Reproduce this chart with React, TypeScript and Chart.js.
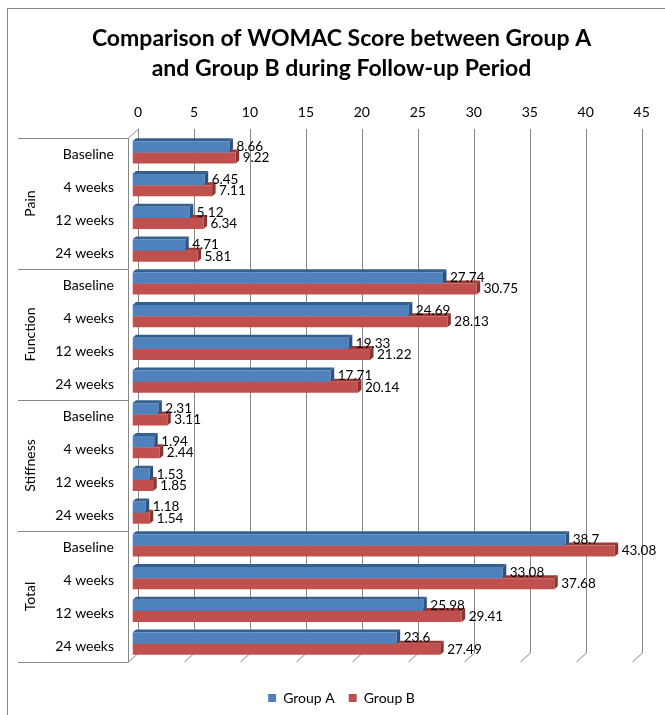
import React, { useEffect, useRef } from "react";
import { Chart, registerables } from "chart.js";

Chart.register(...registerables);

// ---------- data ----------
const TITLE_LINES = ["Comparison of WOMAC Score between Group A", "and Group B during Follow-up Period"];
const GROUPS = ["Pain", "Function", "Stiffness", "Total"];
const TIMEPOINTS = ["Baseline", "4 weeks", "12 weeks", "24 weeks"];
const SERIES_NAMES = ["Group A", "Group B"];
const GROUP_A = [8.66, 6.45, 5.12, 4.71, 27.74, 24.69, 19.33, 17.71, 2.31, 1.94, 1.53, 1.18, 38.7, 33.08, 25.98, 23.6];
const GROUP_B = [9.22, 7.11, 6.34, 5.81, 30.75, 28.13, 21.22, 20.14, 3.11, 2.44, 1.85, 1.54, 43.08, 37.68, 29.41, 27.49];
const X_MIN = 0;
const X_MAX = 45;
const X_STEP = 5;

// ---------- styles ----------
const W = 667;
const H = 715;
const FONT = "Lato, 'Open Sans', sans-serif";
const AXIS_COLOR = "#868686";
const COLORS = ["#4F81BD", "#C0504D"];
const TOP_FACE = ["#34608F", "#9A3B39"];
const SIDE_FACE = ["#2C5280", "#8A3331"];
const FRONT = { dx: -4.5, dy: 2 };
const BACK = { dx: 5.5, dy: -7 };
const BAR_DEPTH = { dx: 3.5, dy: 3 };

const categoryLabels = GROUPS.flatMap(() => TIMEPOINTS);

const wallsPlugin = {
  id: "walls3d",
  beforeDatasetsDraw(chart: any) {
    const { ctx, chartArea: a, scales } = chart;
    const xs = scales.x;
    const ys = scales.y;
    ctx.save();
    ctx.strokeStyle = AXIS_COLOR;
    ctx.lineWidth = 1;
    // back wall gridlines and floor diagonals
    for (let v = X_MIN; v <= X_MAX; v += X_STEP) {
      const px = Math.round(xs.getPixelForValue(v) + BACK.dx) + 0.5;
      ctx.beginPath();
      ctx.moveTo(px, a.top + BACK.dy);
      ctx.lineTo(px, a.bottom + BACK.dy);
      ctx.lineTo(px - (BACK.dx - FRONT.dx), a.bottom + FRONT.dy);
      ctx.stroke();
    }
    // front category axis line with top diagonal
    const fx = Math.round(a.left + FRONT.dx) + 0.5;
    ctx.beginPath();
    ctx.moveTo(Math.round(a.left + BACK.dx) + 0.5, a.top + BACK.dy);
    ctx.lineTo(fx, a.top + FRONT.dy);
    ctx.lineTo(fx, a.bottom + FRONT.dy);
    ctx.stroke();
    // group separators
    const n = TIMEPOINTS.length;
    const half = (ys.getPixelForValue(1) - ys.getPixelForValue(0)) / 2;
    for (let g = 0; g <= GROUPS.length; g++) {
      const py = Math.round(ys.getPixelForValue(g * n) - half + FRONT.dy) + 0.5;
      ctx.beginPath();
      ctx.moveTo(10, py);
      ctx.lineTo(fx, py);
      ctx.stroke();
    }
    // group labels (rotated)
    ctx.fillStyle = "#000";
    ctx.font = `14px ${FONT}`;
    ctx.textAlign = "center";
    ctx.textBaseline = "middle";
    GROUPS.forEach((name, g) => {
      const y0 = ys.getPixelForValue(g * n) - half;
      const y1 = ys.getPixelForValue(g * n + n - 1) + half;
      ctx.save();
      ctx.translate(22, (y0 + y1) / 2 + FRONT.dy);
      ctx.rotate(-Math.PI / 2);
      ctx.fillText(name, 0, 0);
      ctx.restore();
    });
    // 3D faces of bars (red first, blue after)
    for (let d = chart.data.datasets.length - 1; d >= 0; d--) {
      const meta = chart.getDatasetMeta(d);
      meta.data.forEach((el: any) => {
        const { x, y, base, height } = el.getProps(["x", "y", "base", "height"], true);
        const top = y - height / 2;
        const bottom = y + height / 2;
        ctx.fillStyle = TOP_FACE[d];
        ctx.beginPath();
        ctx.moveTo(base, top);
        ctx.lineTo(base + BAR_DEPTH.dx, top - BAR_DEPTH.dy);
        ctx.lineTo(x + BAR_DEPTH.dx, top - BAR_DEPTH.dy);
        ctx.lineTo(x, top);
        ctx.closePath();
        ctx.fill();
        ctx.fillStyle = SIDE_FACE[d];
        ctx.beginPath();
        ctx.moveTo(x, top);
        ctx.lineTo(x + BAR_DEPTH.dx, top - BAR_DEPTH.dy);
        ctx.lineTo(x + BAR_DEPTH.dx, bottom - BAR_DEPTH.dy);
        ctx.lineTo(x, bottom);
        ctx.closePath();
        ctx.fill();
      });
    }
    ctx.restore();
  },
  afterDatasetsDraw(chart: any) {
    const { ctx } = chart;
    ctx.save();
    ctx.fillStyle = "#000";
    ctx.font = `13.5px ${FONT}`;
    ctx.textAlign = "left";
    ctx.textBaseline = "middle";
    chart.data.datasets.forEach((ds: any, d: number) => {
      const meta = chart.getDatasetMeta(d);
      meta.data.forEach((el: any, i: number) => {
        const { x, y } = el.getProps(["x", "y"], true);
        ctx.fillText(String(ds.data[i]), x + 7, y);
      });
    });
    ctx.restore();
  },
};

export default function App() {
  const ref = useRef<HTMLCanvasElement>(null);
  useEffect(() => {
    const chart = new Chart(ref.current as HTMLCanvasElement, {
      type: "bar",
      data: {
        labels: categoryLabels,
        datasets: [
          {
            label: SERIES_NAMES[0],
            data: GROUP_A,
            backgroundColor: COLORS[0],
            borderWidth: 0,
            categoryPercentage: 0.68,
            barPercentage: 1.0,
          },
          {
            label: SERIES_NAMES[1],
            data: GROUP_B,
            backgroundColor: COLORS[1],
            borderWidth: 0,
            categoryPercentage: 0.68,
            barPercentage: 1.0,
          },
        ],
      },
      options: {
        indexAxis: "y",
        responsive: false,
        animation: false,
        events: [],
        layout: { padding: { left: 0, right: 0, top: 0, bottom: 9 } },
        scales: {
          x: {
            type: "linear",
            position: "top",
            min: X_MIN,
            max: X_MAX,
            grid: { display: false, drawTicks: false },
            border: { display: false },
            ticks: {
              stepSize: X_STEP,
              labelOffset: 5.5,
              padding: 15,
              color: "#000",
              font: { family: FONT, size: 14 },
            },
            afterFit(s: any) {
              s.height = 42;
              s.paddingRight = W - 628.2;
            },
          },
          spacer: {
            type: "linear",
            axis: "x",
            position: "bottom",
            display: true,
            grid: { display: false, drawTicks: false },
            border: { display: false },
            ticks: { display: false },
            afterFit(s: any) {
              s.height = 17;
            },
          },
          y: {
            type: "category",
            position: "left",
            grid: { display: false, drawTicks: false },
            border: { display: false },
            ticks: {
              autoSkip: false,
              padding: 18.5,
              labelOffset: 2.5,
              color: "#000",
              font: { family: FONT, size: 14 },
            },
            afterFit(s: any) {
              s.width = 124.5;
            },
          },
        },
        plugins: {
          title: {
            display: true,
            text: TITLE_LINES,
            color: "#000",
            font: { family: FONT, size: 23, weight: "bold", lineHeight: 30 / 23 },
            padding: { top: 15, bottom: 10 },
          },
          legend: {
            display: true,
            position: "bottom",
            labels: {
              color: "#000",
              font: { family: FONT, size: 14 },
              boxWidth: 8,
              boxHeight: 8,
              padding: 14,
            },
          },
          tooltip: { enabled: false },
        },
      },
      plugins: [wallsPlugin],
    } as any);
    return () => chart.destroy();
  }, []);

  return (
    <div style={{ position: "absolute", left: 7, top: 8, width: 658, height: 707, overflow: "hidden" }}>
      <div style={{ borderTop: `1px solid ${AXIS_COLOR}`, borderLeft: `1px solid ${AXIS_COLOR}`, width: 700, height: 740 }}>
        <canvas ref={ref} width={W} height={H} style={{ display: "block" }} />
      </div>
    </div>
  );
}
